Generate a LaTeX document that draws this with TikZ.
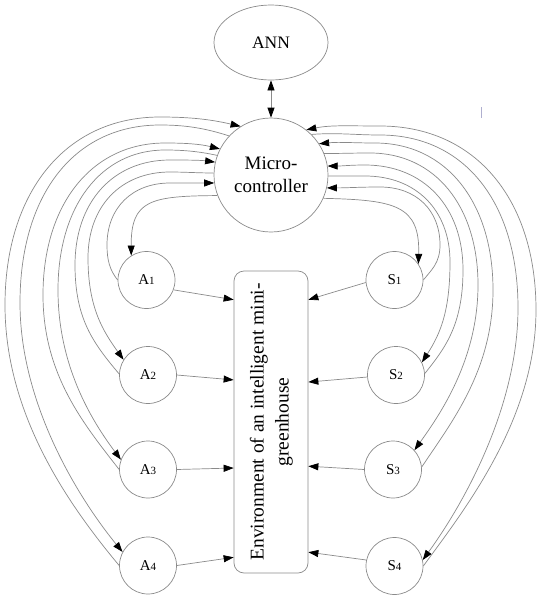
\documentclass[tikz,border=0pt]{standalone}
\usepackage{fontspec}
\setmainfont{Liberation Serif}
\usetikzlibrary{arrows.meta,calc,shapes.geometric}
\definecolor{linegray}{HTML}{8A8A8A}
\begin{document}
\begin{tikzpicture}[x=1pt,y=-1pt,
  shapebase/.style={draw=linegray, line width=0.7pt, text=black, inner sep=0pt},
  annnode/.style={shapebase, ellipse, minimum width=114pt, minimum height=75pt, font=\fontsize{17.5}{21}\selectfont},
  mcnode/.style={shapebase, circle, minimum size=114pt, align=center, font=\fontsize{19}{23}\selectfont},
  ionode/.style={shapebase, circle, minimum size=57pt, font=\fontsize{15}{17}\selectfont},
  envbox/.style={shapebase, rectangle, rounded corners=10pt, minimum width=74pt, minimum height=302pt, font=\fontsize{19.5}{25}\selectfont},
  tip/.tip={Triangle[length=10pt,width=7pt,color=black]},
  conn/.style={draw=linegray, line width=0.7pt, -tip},
  biconn/.style={draw=linegray, line width=0.7pt, tip-tip}
]
\useasboundingbox (0,0) rectangle (541,600);
\newcommand{\dg}[1]{{\fontsize{11}{11}\selectfont #1}}

% nodes
\node[annnode] (ann) at (271,42.5) {ANN};
\node[mcnode] (mc) at (271,175) {Micro-\\controller};
\node[ionode] (A1) at (146.5,280) {A\dg{1}};
\node[ionode] (A2) at (148,375) {A\dg{2}};
\node[ionode] (A3) at (148,469.5) {A\dg{3}};
\node[ionode] (A4) at (148,565.5) {A\dg{4}};
\node[ionode] (S1) at (394.5,280) {S\dg{1}};
\node[ionode] (S2) at (396,375) {S\dg{2}};
\node[ionode] (S3) at (393,469.5) {S\dg{3}};
\node[ionode] (S4) at (394.5,566) {S\dg{4}};
\node[envbox] (env) at (271,422) {\rotatebox{90}{\begin{tabular}{@{}c@{}}Environment of an intelligent mini-\\greenhouse\end{tabular}}};

% ANN <-> microcontroller
\draw[biconn] (ann) -- (mc);

% left side curves
\draw[conn] (A4.180) .. controls +(-50,-60) and +(0,110) .. (5,305) .. controls +(0,-112) and +(-95,0) .. (160,117) .. controls +(30,0) and +(-30,-7) .. (mc.122);
\draw[conn] (mc.137) .. controls +(-25,-8) and +(25,0) .. (160,125) .. controls +(-86,0) and +(0,-108) .. (20,303) .. controls +(0,100) and +(-45,-55) .. (A4.152);
\draw[conn] (A3.180) .. controls +(-35,-45) and +(0,80) .. (43,295) .. controls +(0,-91) and +(-73,0) .. (165,143) .. controls +(20,0) and +(-20,-5) .. (mc.153);
\draw[conn] (mc.160) .. controls +(-18,-4) and +(18,0) .. (165,150) .. controls +(-64,0) and +(0,-84) .. (58,290) .. controls +(0,75) and +(-30,-40) .. (A3.160);
\draw[conn] (A2.178) .. controls +(-25,-30) and +(0,55) .. (75,265) .. controls +(0,-63) and +(-57,0) .. (170,160) .. controls +(15,0) and +(-15,-2) .. (mc.167);
\draw[conn] (mc.178) .. controls +(-15,0) and +(15,0) .. (170,172) .. controls +(-49,0) and +(0,-52) .. (88,258) .. controls +(0,50) and +(-20,-28) .. (A2.148);
\draw[conn] (A1.180) .. controls +(-8,-10) and +(0,15) .. (107,245) .. controls +(0,-37) and +(-38,0) .. (170,183) .. controls +(15,0) and +(-15,0) .. (mc.188);
\draw[conn] (mc.201) .. controls (150,196) and (131,200) .. (A1.122);

% right side curves
\draw[conn] (S4.0) .. controls +(40,-55) and +(0,110) .. (536,310) .. controls +(0,-110) and +(96,0) .. (380,126) .. controls +(-30,0) and +(25,-5) .. (mc.52);
\draw[conn] (mc.45) .. controls +(25,-2) and +(-25,0) .. (380,135) .. controls +(85,0) and +(0,-105) .. (518,308) .. controls +(0,100) and +(40,-55) .. (S4.12);
\draw[conn] (S3.5) .. controls +(30,-45) and +(0,80) .. (493,290) .. controls +(0,-88) and +(71,0) .. (375,143) .. controls +(-20,0) and +(20,-2) .. (mc.33);
\draw[conn] (mc.22) .. controls +(18,0) and +(-18,0) .. (370,153) .. controls +(65,0) and +(0,-79) .. (478,285) .. controls +(0,75) and +(25,-35) .. (S3.42);
\draw[conn] (S2.3) .. controls +(20,-25) and +(0,55) .. (463,270) .. controls +(0,-63) and +(59,0) .. (365,165) .. controls +(-15,0) and +(15,0) .. (mc.9);
\draw[conn] (mc.-1) .. controls +(15,0) and +(-15,0) .. (365,176) .. controls +(51,0) and +(0,-52) .. (450,262) .. controls +(0,50) and +(18,-28) .. (S2.26);
\draw[conn] (S1.0) .. controls +(8,-10) and +(0,18) .. (440,245) .. controls +(0,-35) and +(36,0) .. (380,187) .. controls +(-20,0) and +(20,0) .. (mc.-13);
\draw[conn] (mc.-24) .. controls (395,200) and (420,205) .. (S1.34);

% arrows into the environment
\coordinate (eA1) at ($(env.north west)!0.096!(env.south west)$);
\coordinate (eA2) at ($(env.north west)!0.361!(env.south west)$);
\coordinate (eA3) at ($(env.north west)!0.652!(env.south west)$);
\coordinate (eA4) at ($(env.north west)!0.947!(env.south west)$);
\coordinate (eS1) at ($(env.north east)!0.096!(env.south east)$);
\coordinate (eS2) at ($(env.north east)!0.368!(env.south east)$);
\coordinate (eS3) at ($(env.north east)!0.646!(env.south east)$);
\coordinate (eS4) at ($(env.north east)!0.930!(env.south east)$);
\draw[conn] (A1.-20) -- (eA1);
\draw[conn] (A2.0) -- (eA2);
\draw[conn] (A3.0) -- (eA3);
\draw[conn] (A4.0) -- (eA4);
\draw[conn] (S1.185) -- (eS1);
\draw[conn] (S2.184) -- (eS2);
\draw[conn] (S3.180) -- (eS3);
\draw[conn] (S4.168) -- (eS4);

% stray mark
\draw[color=blue!25!gray!50, line width=0.6pt] (481,107) -- (481,118);
\end{tikzpicture}
\end{document}
